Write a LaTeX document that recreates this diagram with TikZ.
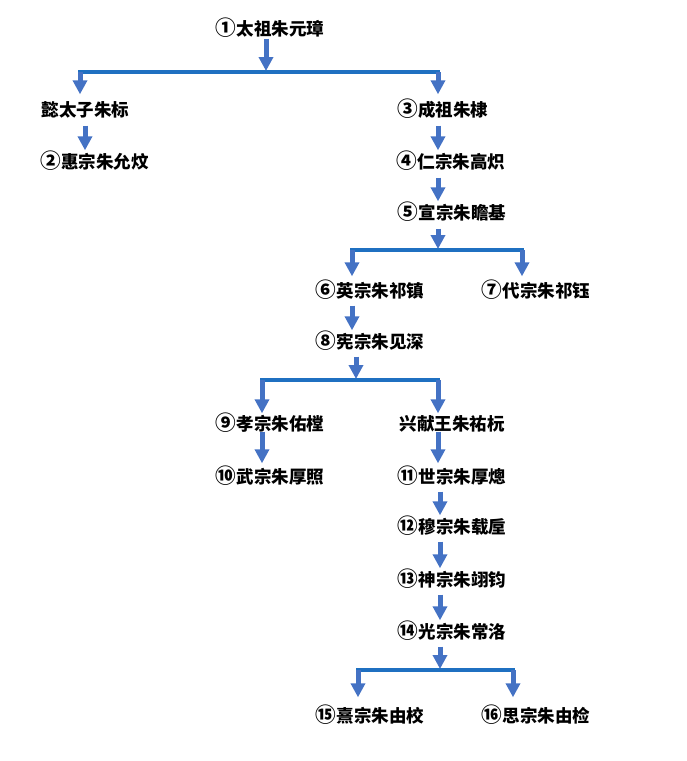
\documentclass[tikz,border=0pt]{standalone}
\usepackage{fontspec}
\setmainfont{Noto Sans CJK SC}
\usetikzlibrary{arrows.meta,calc}
\definecolor{arrblue}{HTML}{4472C4}
\definecolor{barblue}{HTML}{1F70C1}
\newcommand{\cnum}[1]{\raisebox{-0.6pt}{\scalebox{1.18}{#1}}}
\begin{document}
\begin{tikzpicture}[x=1pt,y=-1pt,
  person/.style={font=\fontsize{17.5}{18}\selectfont\bfseries,inner sep=0pt,text height=13.5pt,text depth=3.5pt},
  arr/.style={draw=arrblue,line width=5pt,-{Triangle[width=14pt,length=14pt]},arrblue,shorten >=1pt},
  bar/.style={draw=barblue,line width=4pt}]
\useasboundingbox (0,0) rectangle (687,761);
% nodes
\node[person] (n1) at (270,30) {\cnum{①}太祖朱元璋};
\node[person] (nA) at (85.5,111) {懿太子朱标};
\node[person] (n2) at (94.5,163) {\cnum{②}惠宗朱允炆};
\node[person] (n3) at (443,111) {\cnum{③}成祖朱棣};
\node[person] (n4) at (451,163) {\cnum{④}仁宗朱高炽};
\node[person] (n5) at (452,214) {\cnum{⑤}宣宗朱瞻基};
\node[person] (n6) at (370,292) {\cnum{⑥}英宗朱祁镇};
\node[person] (n7) at (536,292) {\cnum{⑦}代宗朱祁钰};
\node[person] (n8) at (370,343) {\cnum{⑧}宪宗朱见深};
\node[person] (n9) at (270,425) {\cnum{⑨}孝宗朱佑樘};
\node[person] (nX) at (452,425) {兴献王朱祐杬};
\node[person] (n10) at (270,478) {\cnum{⑩}武宗朱厚照};
\node[person] (n11) at (452,478) {\cnum{⑪}世宗朱厚熜};
\node[person] (n12) at (452,528) {\cnum{⑫}穆宗朱载垕};
\node[person] (n13) at (452,581) {\cnum{⑬}神宗朱翊钧};
\node[person] (n14) at (452,633) {\cnum{⑭}光宗朱常洛};
\node[person] (n15) at (370,717) {\cnum{⑮}熹宗朱由校};
\node[person] (n16) at (536,717) {\cnum{⑯}思宗朱由检};
% bars
\coordinate (b1) at (266,72);  \coordinate (b1l) at (80,72);  \coordinate (b1r) at (438,72);
\coordinate (b2) at (438,250); \coordinate (b2l) at (352,250); \coordinate (b2r) at (522,250);
\coordinate (b3) at (356,380); \coordinate (b3l) at (262,380); \coordinate (b3r) at (438,380);
\coordinate (b4) at (440,670); \coordinate (b4l) at (358,670); \coordinate (b4r) at (513,670);
\draw[bar] ([xshift=-2pt]b1l) -- ([xshift=2pt]b1r);
\draw[bar] ([xshift=-2pt]b2l) -- ([xshift=2pt]b2r);
\draw[bar] ([xshift=-2pt]b3l) -- ([xshift=2pt]b3r);
\draw[bar] ([xshift=-2pt]b4l) -- ([xshift=2pt]b4r);
% arrows into bars
\draw[arr] (n1.south -| b1) -- (b1);
\draw[arr] ($(n5.south -| b2)+(0,6)$) -- (b2);
\draw[arr] ($(n8.south -| b3)+(0,5)$) -- (b3);
\draw[arr] ($(n14.south -| b4)+(0,5)$) -- (b4);
% arrows out of bars
\draw[arr] (b1l) -- ($(nA.north -| b1l)+(0,-7)$);
\draw[arr] (b1r) -- ($(n3.north -| b1r)+(0,-7)$);
\draw[arr] (b2l) -- ($(n6.north -| b2l)+(0,-6)$);
\draw[arr] (b2r) -- ($(n7.north -| b2r)+(0,-6)$);
\draw[arr] (b3l) -- ($(n9.north -| b3l)+(0,-2)$);
\draw[arr] (b3r) -- ($(nX.north -| b3r)+(0,-2)$);
\draw[arr] (b4l) -- ($(n15.north -| b4l)+(0,-10)$);
\draw[arr] (b4r) -- ($(n16.north -| b4r)+(0,-10)$);
% direct arrows
\coordinate (xA) at (85,0);
\coordinate (x3) at (438,0);
\coordinate (x6) at (352,0);
\coordinate (x9) at (262,0);
\coordinate (x11) at (440,0);
\draw[arr] ($(nA.south -| xA)+(0,6)$) -- ($(n2.north -| xA)+(0,-3)$);
\draw[arr] ($(n3.south -| x3)+(0,6)$) -- ($(n4.north -| x3)+(0,-3)$);
\draw[arr] ($(n4.south -| x3)+(0,6)$) -- ($(n5.north -| x3)+(0,-3)$);
\draw[arr] ($(n6.south -| x6)+(0,5)$) -- ($(n8.north -| x6)+(0,-3)$);
\draw[arr] ($(n9.south -| x9)+(0,-2)$) -- ($(n10.north -| x9)+(0,-5)$);
\draw[arr] ($(nX.south -| x3)+(0,-2)$) -- ($(n11.north -| x3)+(0,-5)$);
\draw[arr] ($(n11.south -| x11)+(0,5)$) -- ($(n12.north -| x11)+(0,-3)$);
\draw[arr] ($(n12.south -| x11)+(0,5)$) -- ($(n13.north -| x11)+(0,-3)$);
\draw[arr] ($(n13.south -| x11)+(0,5)$) -- ($(n14.north -| x11)+(0,-3)$);
\end{tikzpicture}
\end{document}
